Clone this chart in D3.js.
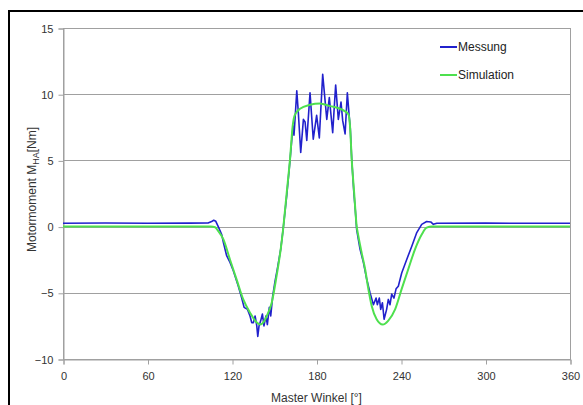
<!DOCTYPE html>
<html>
<head>
<meta charset="utf-8">
<script src="https://cdn.jsdelivr.net/npm/d3@7"></script>
<style>
  html, body { margin: 0; padding: 0; background: #fff; }
  svg { display: block; font-family: "Liberation Sans", Arial, sans-serif; }
</style>
</head>
<body>
<div id="chart"></div>
<script>
// Achsen
const xTicks = [0, 60, 120, 180, 240, 300, 360];
const yTicks = [-10, -5, 0, 5, 10, 15];

// Messung (Winkel, Moment)
const messungDeg = [0, 30, 60, 90, 103, 105.5, 107, 108.5, 110, 112.7, 113.9, 116.2, 118.6, 121, 124.5, 126.9, 128.6, 131, 132.8, 134, 135.2, 136.4, 137.6, 138.3, 139.2, 140.4, 141.6, 142.7, 144.1, 145.1, 146.5, 147.5, 148.9, 150.6, 152.2, 154.6, 156.3, 158.9, 161.2, 162.8, 163.5, 164, 164.4, 166, 167.1, 168.8, 170.7, 171.9, 173.1, 175.4, 177.7, 180.1, 182, 184.4, 187.3, 189.1, 191.5, 193.6, 195.5, 197.4, 198.6, 200.3, 201.9, 203.1, 204, 205, 206.5, 207.6, 208.5, 210.9, 213.3, 215.7, 218, 220.4, 222.3, 223.2, 224.6, 225.6, 226.8, 228, 229.8, 231, 232.2, 233.4, 235, 236.5, 238.1, 240.5, 244, 247.6, 251.2, 254.7, 258.2, 261.1, 263, 265.4, 300, 330, 360];
const messungVal = [0.25, 0.27, 0.25, 0.26, 0.27, 0.38, 0.48, 0.4, 0.05, -0.6, -1.2, -2.2, -2.7, -3.35, -4.5, -5.4, -6.1, -6.25, -6.75, -7.25, -7.25, -6.75, -7.5, -8.3, -7.5, -7.1, -6.6, -7.5, -6.75, -7.4, -6.1, -6.75, -5.25, -4.1, -3.2, -1.7, -0.2, 2.4, 5.0, 7.0, 7.6, 6.9, 7.5, 10.25, 8.6, 5.6, 8.1, 7.9, 6.5, 10.1, 6.6, 8.4, 6.7, 11.5, 8.1, 9.75, 7.1, 10.7, 8.1, 9.4, 8.0, 7.0, 10.1, 8.5, 7.4, 5.1, 2.6, 1.2, -0.2, -1.7, -2.7, -4.0, -5.0, -5.9, -5.4, -5.9, -5.4, -6.25, -5.75, -7.0, -6.25, -5.5, -5.9, -5.1, -5.4, -4.7, -4.5, -3.5, -2.5, -1.5, -0.45, 0.17, 0.38, 0.35, 0.17, 0.25, 0.26, 0.25, 0.25];

// Simulation (Winkel, Moment)
const simDeg = [0, 105, 108, 110, 113.9, 118.6, 123.3, 128, 132.8, 137.6, 140, 142.5, 144.7, 148.2, 151.7, 154.6, 156.3, 158.9, 161.2, 163.1, 164.5, 168.3, 175.4, 182.5, 189.6, 196.7, 202.6, 203.8, 205, 206.7, 208.5, 209.7, 212.1, 214.5, 216.8, 219.2, 222.7, 227, 231, 235.8, 240.5, 245.2, 250, 254.7, 258.2, 262, 360];
const simVal = [0, 0, -0.05, -0.3, -0.96, -2.5, -4.0, -5.5, -6.5, -7.25, -7.4, -7.2, -6.75, -5.75, -3.7, -1.7, -0.2, 2.6, 5.1, 7.6, 8.4, 8.9, 9.2, 9.3, 9.1, 8.9, 8.5, 7.6, 5.1, 2.6, 0.05, -0.7, -2.0, -3.2, -4.7, -6.0, -7.0, -7.4, -7.1, -6.25, -4.7, -3.2, -1.7, -0.6, -0.08, 0, 0];

const seriesNames = ['Messung', 'Simulation'];
const seriesColors = ['#2121cc', '#4ee04e'];

const W = 583, H = 405;
const plot = { left: 63, right: 570, top: 28, bottom: 359 };

const svg = d3.select('#chart').append('svg')
    .attr('width', W)
    .attr('height', H);

// äußerer Rahmen (nur links/oben sichtbar)
svg.append('line').attr('x1', 9).attr('x2', 9).attr('y1', 10).attr('y2', H)
    .attr('stroke', '#000').attr('stroke-width', 2);
svg.append('line').attr('x1', 8).attr('x2', W).attr('y1', 11).attr('y2', 11)
    .attr('stroke', '#000').attr('stroke-width', 2);

const x = d3.scaleLinear().domain([0, 360]).range([plot.left, plot.right]);
const y = d3.scaleLinear().domain([-10, 15]).range([plot.bottom, plot.top]);

// Gitternetz
svg.append('g')
    .selectAll('line')
    .data(yTicks)
    .enter().append('line')
    .attr('x1', plot.left).attr('x2', plot.right)
    .attr('y1', d => Math.round(y(d)) + 0.5)
    .attr('y2', d => Math.round(y(d)) + 0.5)
    .attr('stroke', '#a0a0a0').attr('stroke-width', 1);

// Rahmen Zeichnungsfläche
svg.append('rect')
    .attr('x', plot.left + 0.5).attr('y', plot.top + 0.5)
    .attr('width', plot.right - plot.left).attr('height', plot.bottom - plot.top)
    .attr('fill', 'none').attr('stroke', '#a0a0a0');

// Y-Achse
const yAxis = svg.append('g')
    .attr('transform', `translate(${plot.left + 0.5},0.5)`)
    .call(d3.axisLeft(y).tickValues(yTicks).tickSize(5).tickPadding(5));
// X-Achse
const xAxis = svg.append('g')
    .attr('transform', `translate(0.5,${plot.bottom + 0.5})`)
    .call(d3.axisBottom(x).tickValues(xTicks).tickSize(5).tickPadding(8));

[yAxis, xAxis].forEach(a => {
    a.select('.domain').attr('stroke', '#a0a0a0');
    a.selectAll('.tick line').attr('stroke', '#a0a0a0');
    a.selectAll('.tick text')
        .attr('fill', '#333')
        .style('font-size', '11px')
        .style('font-family', '"Liberation Sans", Arial, sans-serif');
});

// Achsentitel
svg.append('text')
    .attr('x', (plot.left + plot.right) / 2)
    .attr('y', 402)
    .attr('text-anchor', 'middle')
    .attr('fill', '#333')
    .style('font-size', '12px')
    .text('Master Winkel  [°]');

const yTitle = svg.append('text')
    .attr('transform', `translate(36,${(plot.top + plot.bottom) / 2 - 4}) rotate(-90)`)
    .attr('text-anchor', 'middle')
    .attr('fill', '#333')
    .style('font-size', '12px');
yTitle.append('tspan').text('Motormoment M');
yTitle.append('tspan').attr('dy', 3).style('font-size', '9px').text('HA');
yTitle.append('tspan').attr('dy', -3).text('[Nm]');

// Kurven
const line = d3.line().x(d => x(d[0])).y(d => y(d[1]));
const simLine = d3.line().x(d => x(d[0])).y(d => y(d[1])).curve(d3.curveMonotoneX);

const messung = messungDeg.map((d, i) => [d, messungVal[i]]);
const simulation = simDeg.map((d, i) => [d, simVal[i]]);

svg.append('path')
    .datum(messung)
    .attr('d', line)
    .attr('fill', 'none')
    .attr('stroke', seriesColors[0])
    .attr('stroke-width', 1.6)
    .attr('stroke-linejoin', 'round');

svg.append('path')
    .datum(simulation)
    .attr('d', simLine)
    .attr('fill', 'none')
    .attr('stroke', seriesColors[1])
    .attr('stroke-width', 2)
    .attr('stroke-linejoin', 'round');

// Legende
const legend = svg.append('g')
    .selectAll('g')
    .data(seriesNames)
    .enter().append('g')
    .attr('transform', (d, i) => `translate(440,${47 + i * 28})`);

legend.append('line')
    .attr('x1', 0).attr('x2', 17)
    .attr('stroke', (d, i) => seriesColors[i])
    .attr('stroke-width', 2);

legend.append('text')
    .attr('x', 18).attr('dy', '0.35em')
    .attr('fill', '#222')
    .style('font-size', '12px')
    .text(d => d);
</script>
</body>
</html>
